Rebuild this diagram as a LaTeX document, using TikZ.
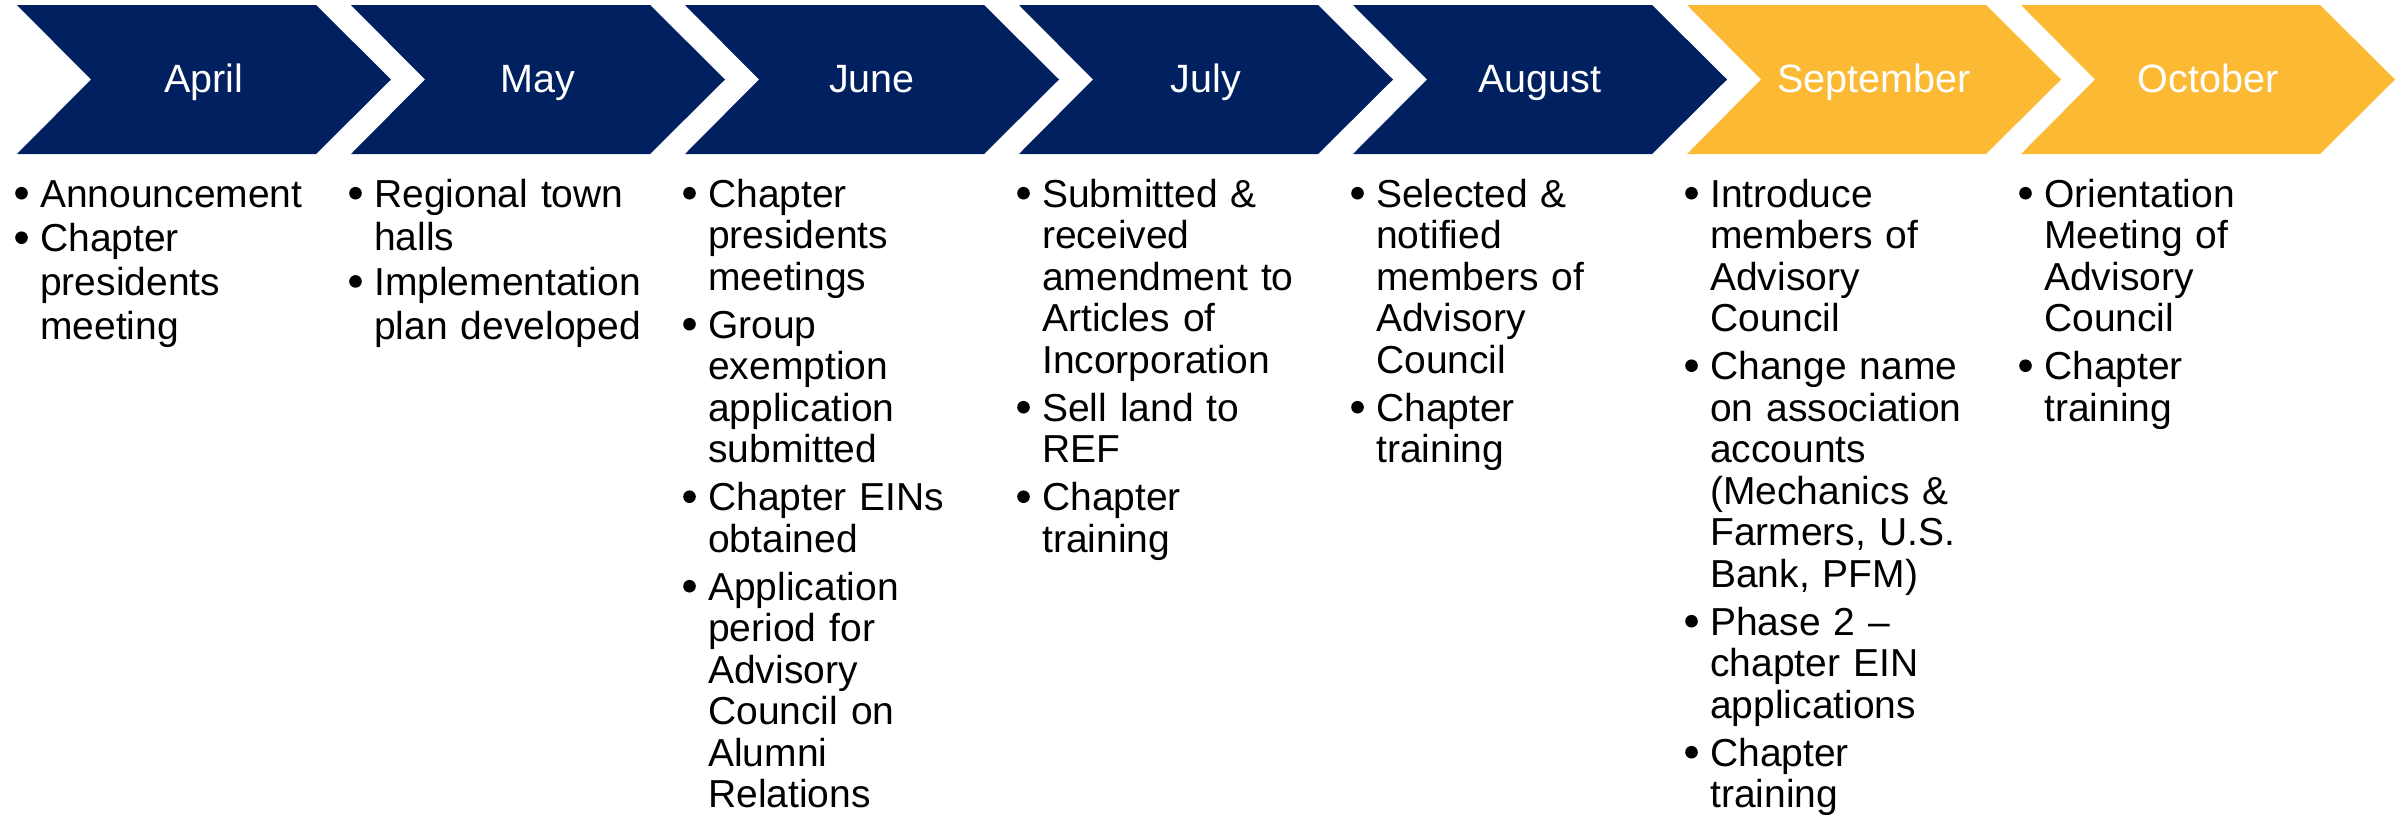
\documentclass[tikz,border=0pt]{standalone}
\usepackage{fontspec}
\setmainfont{Liberation Sans}
\definecolor{navy}{RGB}{0,32,96}
\definecolor{gold}{RGB}{252,186,52}
\newlength\itemgap
\setlength\itemgap{6.5pt}
\newcommand\bdot{\tikz[x=1pt,y=1pt,baseline=0pt]\fill[black] (6.5,14) circle[radius=6.3pt];}
\newcommand\bitem[1]{\noindent\hangindent=25pt\hangafter=1\makebox[25pt][l]{\bdot}\rule{0pt}{30pt}{\def\\{\newline}#1}\par\vspace{\itemgap}}
\tikzset{
  month/.style={text=white, font=\fontsize{39.5}{45}\selectfont, inner sep=0pt, anchor=base},
  col/.style={anchor=north west, inner sep=0pt, text width=400pt, align=left,
              font=\fontsize{39}{41.5}\selectfont\setlength\itemgap{6.5pt}},
  colwide/.style={col, font=\fontsize{39}{43.7}\selectfont\setlength\itemgap{0.8pt}},
}
\begin{document}
\begin{tikzpicture}[x=1pt,y=-1pt]
\useasboundingbox (0,0) rectangle (2405,815);
% chevrons
\foreach \k/\c/\m/\nm in {0/navy/April/mApr,1/navy/May/mMay,2/navy/June/mJun,3/navy/July/mJul,4/navy/August/mAug,5/gold/September/mSep,6/gold/October/mOct}{
  \pgfmathsetmacro\L{17+334*\k}
  \fill[\c] (\L,5) -- (\L+299,5) -- (\L+374,79.5) -- (\L+299,154) -- (\L,154) -- (\L+74,79.5) -- cycle;
  \node[month] (\nm) at (\L+187,92) {\m};
}
% bullet columns
\node[colwide] (cApr) at (15,177) {%
\bitem{Announcement}
\bitem{Chapter\\presidents\\meeting}};
\node[colwide] (cMay) at (349,177) {%
\bitem{Regional town\\halls}
\bitem{Implementation\\plan developed}};
\node[col] (cJun) at (683,177) {%
\bitem{Chapter\\presidents\\meetings}
\bitem{Group\\exemption\\application\\submitted}
\bitem{Chapter EINs\\obtained}
\bitem{Application\\period for\\Advisory\\Council on\\Alumni\\Relations}};
\node[col] (cJul) at (1017,177) {%
\bitem{Submitted \&\\received\\amendment to\\Articles of\\Incorporation}
\bitem{Sell land to\\REF}
\bitem{Chapter\\training}};
\node[col] (cAug) at (1351,177) {%
\bitem{Selected \&\\notified\\members of\\Advisory\\Council}
\bitem{Chapter\\training}};
\node[col] (cSep) at (1685,177) {%
\bitem{Introduce\\members of\\Advisory\\Council}
\bitem{Change name\\on association\\accounts\\(Mechanics \&\\Farmers, U.S.\\Bank, PFM)}
\bitem{Phase 2 –\\chapter EIN\\applications}
\bitem{Chapter\\training}};
\node[col] (cOct) at (2019,177) {%
\bitem{Orientation\\Meeting of\\Advisory\\Council}
\bitem{Chapter\\training}};
\end{tikzpicture}
\end{document}
